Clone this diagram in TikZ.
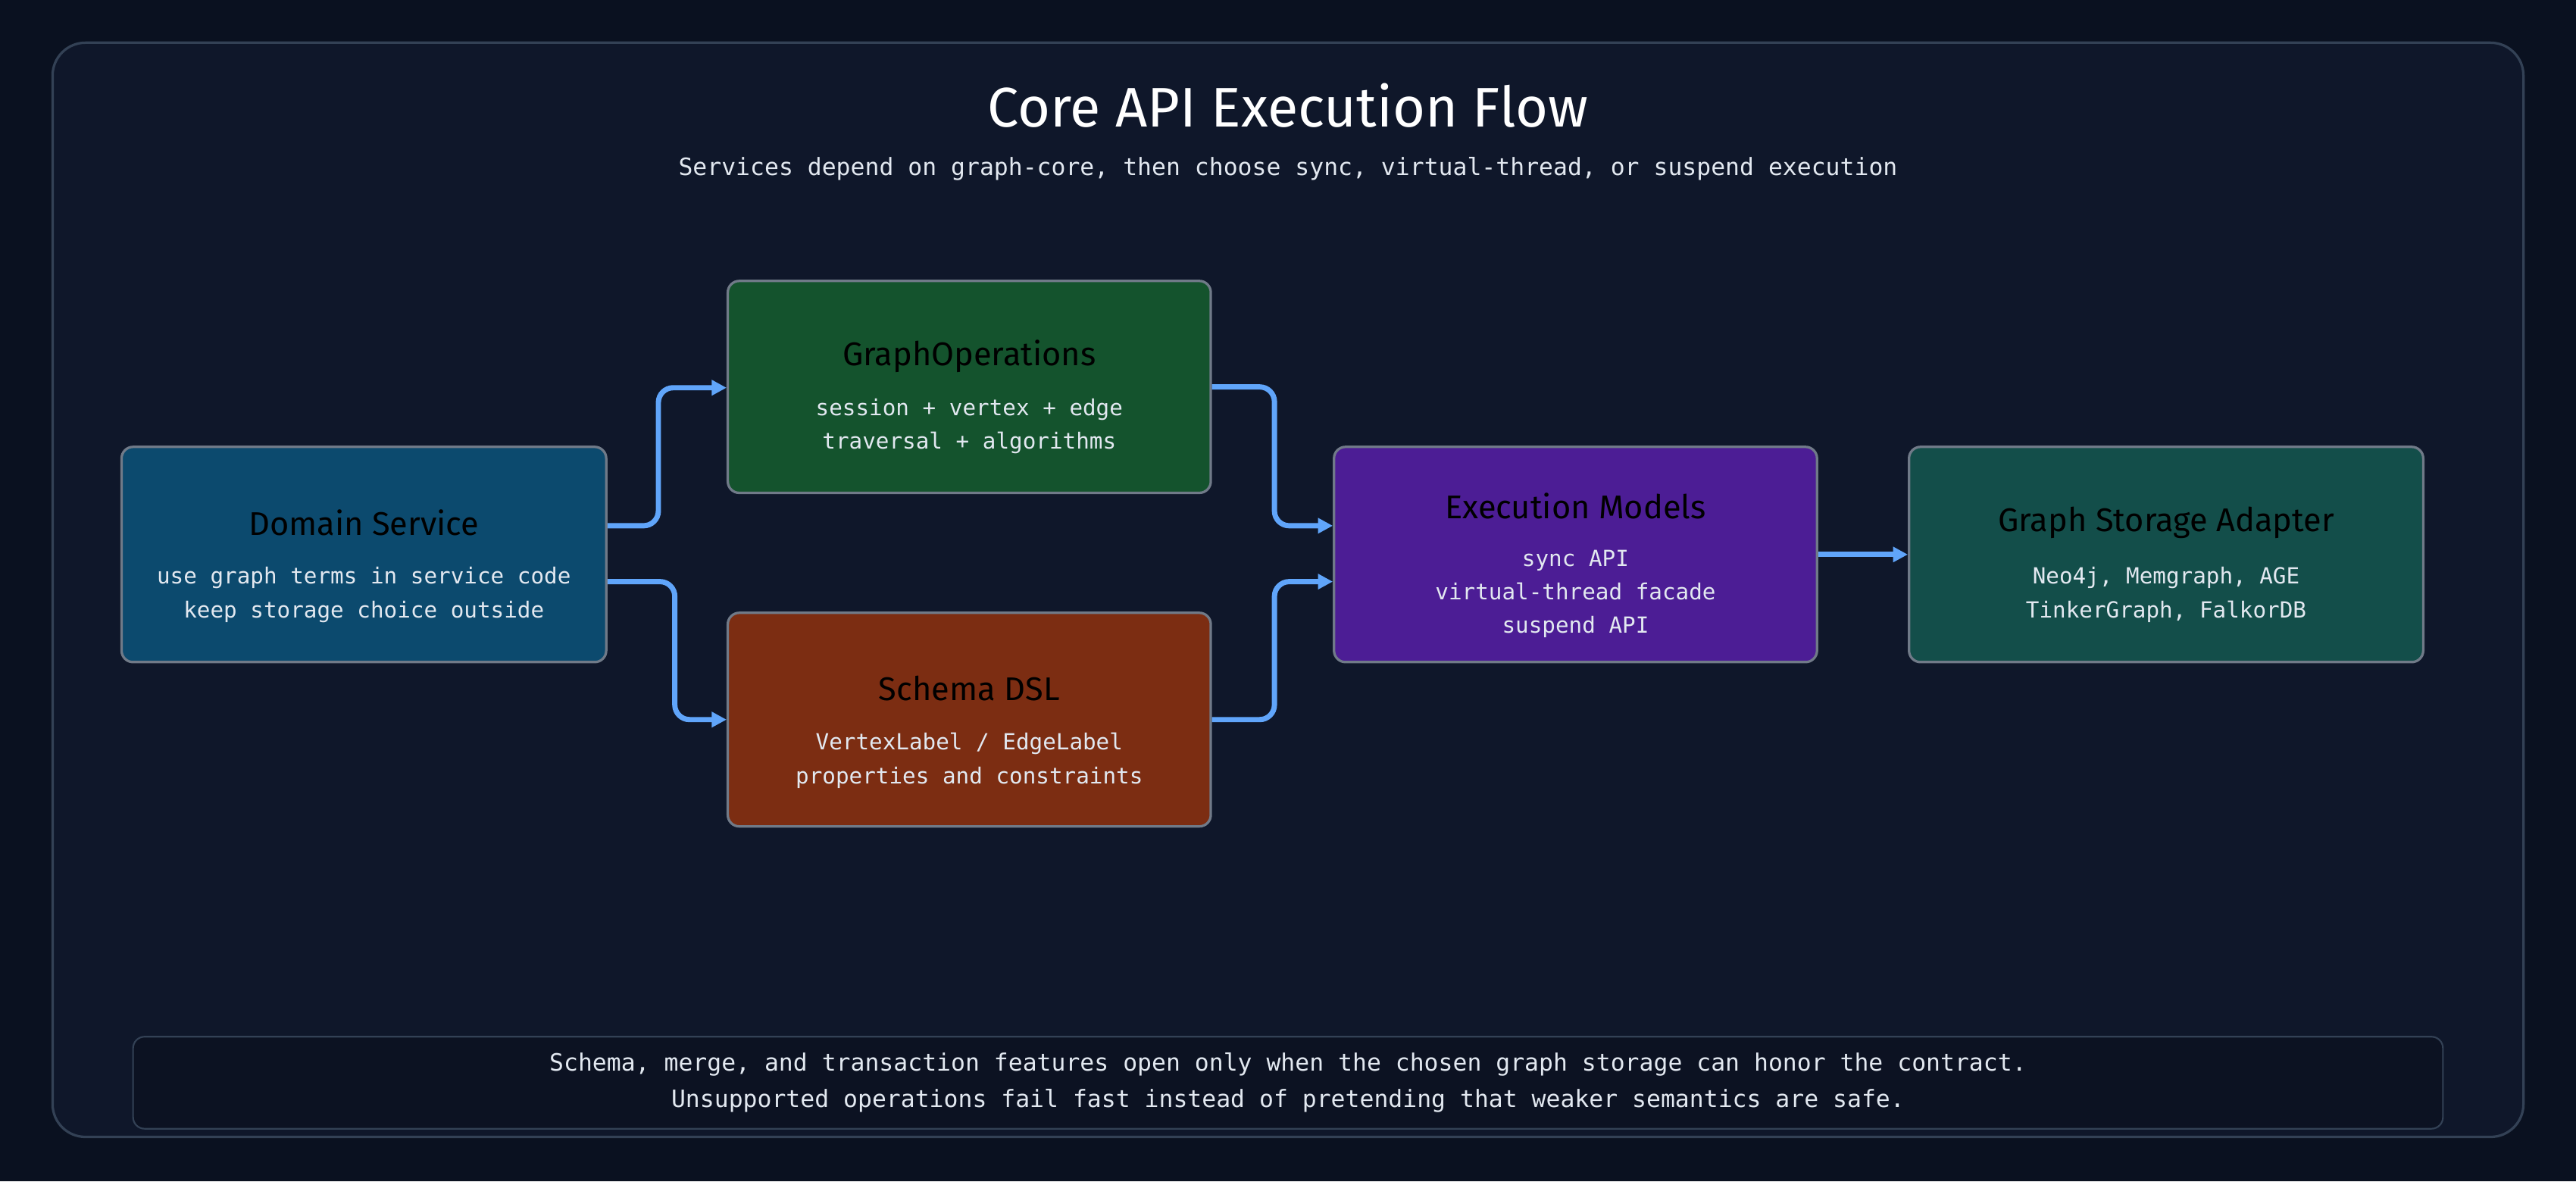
\documentclass[tikz,border=0pt]{standalone}
\usepackage{fontspec}
\setmainfont{DejaVu Sans Mono}
\newfontfamily\ttl{Fira Sans}
\usetikzlibrary{arrows.meta}
\definecolor{bg}{HTML}{0A1120}
\definecolor{panel}{HTML}{0F172A}
\definecolor{edge}{HTML}{334155}
\definecolor{arr}{HTML}{60A5FA}
\definecolor{cblue}{HTML}{0C4A6E}
\definecolor{cgreen}{HTML}{14532D}
\definecolor{corange}{HTML}{7C2D12}
\definecolor{cpurple}{HTML}{4C1D95}
\definecolor{cteal}{HTML}{134E4A}
\definecolor{txt}{HTML}{E2E8F0}
\tikzset{
 box/.style={draw=edge!70!white, line width=1.5pt, rounded corners=7pt, align=center, text=white, inner sep=0pt},
 bt/.style={font=\ttl\fontsize{20}{24}\selectfont},
 bb/.style={font=\fontsize{13.5}{20.5}\selectfont, text=txt, align=center},
 flow/.style={draw=arr, line width=3.2pt, rounded corners=9pt, -{Triangle[length=9pt,width=9pt]}}
}
\begin{document}
\begin{tikzpicture}[x=1pt,y=-1pt]
\fill[bg] (0,0) rectangle (1568,719);
\useasboundingbox (0,0) rectangle (1568,719);
\draw[fill=panel, draw=edge, line width=1.5pt, rounded corners=20pt] (32,26) rectangle (1536,692);
\node[font=\ttl\fontsize{34}{40}\selectfont, text=white] (title) at (784,64) {Core API Execution Flow};
\node[font=\fontsize{14.5}{18}\selectfont, text=txt] (sub) at (784,103) {Services depend on graph-core, then choose sync, virtual-thread, or suspend execution};

\node[box, fill=cblue, minimum width=295pt, minimum height=131pt] (dom) at (221.5,337.5) {};
\node[bt] (domt) at (221.5,318) {Domain Service};
\node[bb] (domb) at (221.5,362) {use graph terms in service code\\keep storage choice outside};

\node[box, fill=cgreen, minimum width=294pt, minimum height=129pt] (gop) at (590,235.5) {};
\node[bt] (gopt) at (590,217) {GraphOperations};
\node[bb] (gopb) at (590,259.5) {session + vertex + edge\\traversal + algorithms};

\node[box, fill=corange, minimum width=294pt, minimum height=130pt] (sch) at (590,438) {};
\node[bt] (scht) at (590,419) {Schema DSL};
\node[bb] (schb) at (590,463) {VertexLabel / EdgeLabel\\properties and constraints};

\node[box, fill=cpurple, minimum width=294pt, minimum height=131pt] (exe) at (959,337.5) {};
\node[bt] (exet) at (959,308) {Execution Models};
\node[bb] (exeb) at (959,361.5) {sync API\\virtual-thread facade\\suspend API};

\node[box, fill=cteal, minimum width=313pt, minimum height=131pt] (sto) at (1318.5,337.5) {};
\node[bt] (stot) at (1318.5,318) {Graph Storage Adapter};
\node[bb] (stob) at (1318.5,362) {Neo4j, Memgraph, AGE\\TinkerGraph, FalkorDB};

\node[draw=edge, line width=1pt, fill=black!20!panel, rounded corners=7pt, minimum width=1406pt, minimum height=56pt] (note) at (784,659) {};
\node[bb, font=\fontsize{14.5}{22}\selectfont] (notet) at (784,659) {Schema, merge, and transaction features open only when the chosen graph storage can honor the contract.\\Unsupported operations fail fast instead of pretending that weaker semantics are safe.};

\draw[flow] ([yshift=17.5pt]dom.east) -- ++(31,0) |- ([yshift=-0.5pt]gop.west);
\draw[flow] ([yshift=-16.5pt]dom.east) -- ++(41,0) |- (sch.west);
\draw[flow] (gop.east) -- ++(38,0) |- ([yshift=17.5pt]exe.west);
\draw[flow] (sch.east) -- ++(38,0) |- ([yshift=-16.5pt]exe.west);
\draw[flow] (exe.east) -- (sto.west);
\end{tikzpicture}
\end{document}
